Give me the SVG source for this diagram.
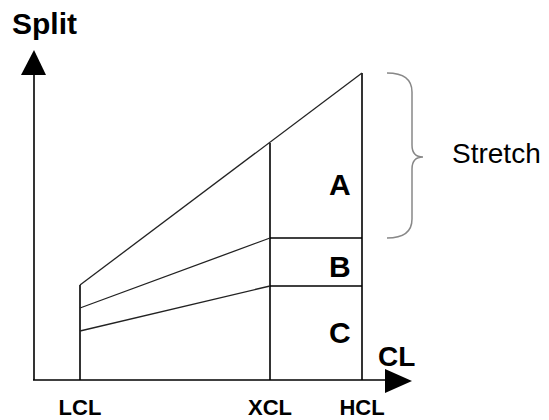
<svg xmlns="http://www.w3.org/2000/svg" width="549" height="420" viewBox="0 0 549 420">
<style>
.ln{stroke:#000;stroke-width:1.6;fill:none}
.sl{stroke:#222;stroke-width:1.3;fill:none}
.b{font-family:"Liberation Sans",Arial,sans-serif;font-weight:bold;fill:#000}
.r{font-family:"Liberation Sans",Arial,sans-serif;fill:#000}
</style>
<rect width="549" height="420" fill="#fff"/>
<g id="axes">
<line class="ln" x1="34" y1="380" x2="34" y2="74"/>
<polygon points="34,50 21,75 46,75" fill="#000"/>
<line class="ln" x1="33" y1="380" x2="386" y2="380"/>
<polygon points="412,381 385,369 385,393" fill="#000"/>
<text class="b" x="12" y="34" font-size="30">Split</text>
<text class="b" x="378" y="366" font-size="28">CL</text>
</g>
<g id="verticals">
<line class="ln" x1="80" y1="380" x2="80" y2="285"/>
<line class="ln" x1="270" y1="380" x2="270" y2="143"/>
<line class="ln" x1="362" y1="380" x2="362" y2="73"/>
</g>
<g id="connectors">
<line class="sl" x1="80" y1="285" x2="362" y2="73"/>
<line class="sl" x1="80" y1="308" x2="270" y2="238"/>
<line class="sl" x1="80" y1="331" x2="270" y2="286"/>
<line class="ln" x1="270" y1="238" x2="362" y2="238"/>
<line class="ln" x1="270" y1="286" x2="362" y2="286"/>
</g>
<g id="regions">
<text class="b" x="329" y="195" font-size="30">A</text>
<text class="b" x="329" y="277" font-size="30">B</text>
<text class="b" x="329" y="343" font-size="30">C</text>
</g>
<g id="ticks">
<text class="b" x="80" y="415" font-size="22" text-anchor="middle">LCL</text>
<text class="b" x="270" y="415" font-size="22" text-anchor="middle">XCL</text>
<text class="b" x="362" y="415" font-size="22" text-anchor="middle">HCL</text>
</g>
<g id="stretch">
<path d="M387,73 Q412,73 412,92 L412,145 Q412,157 423,157 Q412,157 412,169 L412,219 Q412,238 387,238" fill="none" stroke="#888" stroke-width="1.5"/>
<text class="r" x="452" y="163" font-size="28">Stretch</text>
</g>
</svg>
